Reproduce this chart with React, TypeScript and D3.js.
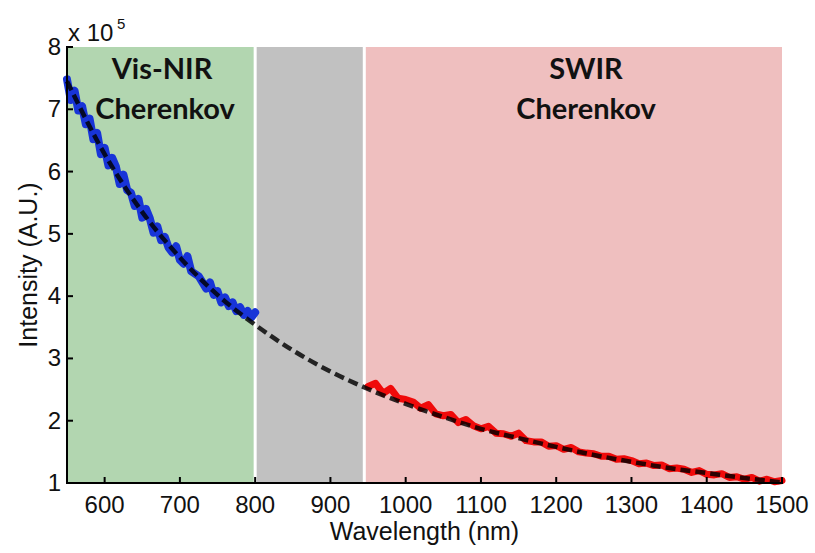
import React from "react";
import * as d3 from "d3";

// wavelength (nm) of the measured Vis-NIR spectrum, every 5 nm
const visWavelengths = d3.range(550, 801, 5);
// intensity (x 10^5)
const visIntensity = [
  7.48, 7.15, 7.3, 6.98, 7.05, 6.76, 6.85, 6.52, 6.62, 6.28, 6.38, 6.1, 6.22,
  6.08, 5.8, 5.95, 5.7, 5.66, 5.45, 5.56, 5.26, 5.4, 5.25, 5.02, 5.12, 4.9,
  4.95, 4.78, 4.7, 4.8, 4.58, 4.52, 4.64, 4.4, 4.36, 4.32, 4.22, 4.12, 4.22,
  4.02, 4.08, 3.9, 3.98, 3.84, 3.9, 3.76, 3.82, 3.7, 3.76, 3.66, 3.74,
];

// SWIR spectrum, every 10 nm
const swirWavelengths = d3.range(950, 1501, 10);
const swirIntensity = [
  2.55, 2.6, 2.44, 2.52, 2.36, 2.34, 2.3, 2.2, 2.26, 2.11, 2.08, 2.1, 1.97,
  2.02, 1.92, 1.87, 1.91, 1.8, 1.79, 1.75, 1.8, 1.68, 1.66, 1.66, 1.59, 1.6,
  1.54, 1.57, 1.5, 1.48, 1.47, 1.43, 1.43, 1.38, 1.39, 1.36, 1.31, 1.32, 1.28,
  1.29, 1.23, 1.24, 1.22, 1.17, 1.2, 1.14, 1.13, 1.15, 1.09, 1.1, 1.06, 1.09,
  1.03, 1.06, 1.02, 1.04,
];

// fitted curve (dashed), every 50 nm
const fitWavelengths = d3.range(550, 1501, 50);
const fitIntensity = [
  7.45, 6.28, 5.35, 4.62, 4.02, 3.54, 3.13, 2.79, 2.51, 2.27, 2.06, 1.87, 1.72,
  1.58, 1.45, 1.34, 1.24, 1.16, 1.08, 1.01,
];

const regions = [
  { name: "Vis-NIR", from: 550, to: 800, color: "#b2d6b0" },
  { name: "gap", from: 800, to: 945, color: "#c1c1c1" },
  { name: "SWIR", from: 945, to: 1500, color: "#efbfbf" },
];

const xTicks = [600, 700, 800, 900, 1000, 1100, 1200, 1300, 1400, 1500];
const yTicks = [1, 2, 3, 4, 5, 6, 7, 8];

const W = 815;
const H = 553;
const margin = { top: 47, right: 33, bottom: 70, left: 67 };
const font = "'Liberation Sans', Arial, sans-serif";
const labelFont = "Lato, 'Open Sans', sans-serif";

export default function App() {
  const x = d3
    .scaleLinear()
    .domain([550, 1500])
    .range([margin.left, W - margin.right]);
  const y = d3
    .scaleLinear()
    .domain([1, 8])
    .range([H - margin.bottom, margin.top]);

  const line = d3
    .line<[number, number]>()
    .x((d) => x(d[0]))
    .y((d) => y(d[1]));

  const visPath = line(visWavelengths.map((w, i) => [w, visIntensity[i]]));
  const swirPath = line(swirWavelengths.map((w, i) => [w, swirIntensity[i]]));
  const fitPath = d3
    .line<[number, number]>()
    .x((d) => x(d[0]))
    .y((d) => y(d[1]))
    .curve(d3.curveMonotoneX)(fitWavelengths.map((w, i) => [w, fitIntensity[i]]));

  const x0 = x(550);
  const x1 = x(1500);
  const yTop = y(8);
  const yBot = y(1);

  return (
    <svg
      width={W}
      height={H}
      style={{ position: "absolute", left: 0, top: 0, background: "#fff" }}
    >
      {/* shaded spectral regions */}
      {regions.map((r) => (
        <rect
          key={r.name}
          x={x(r.from)}
          y={yTop}
          width={x(r.to) - x(r.from)}
          height={yBot - yTop}
          fill={r.color}
        />
      ))}
      {[800, 945].map((b) => (
        <line
          key={b}
          x1={x(b)}
          x2={x(b)}
          y1={yTop}
          y2={yBot}
          stroke="#fff"
          strokeWidth={3}
        />
      ))}

      {/* region labels */}
      <g
        fontFamily={labelFont}
        fontWeight="bold"
        fontSize={29}
        textAnchor="middle"
        fill="#111"
      >
        <text x={162} y={79}>Vis-NIR</text>
        <text x={165} y={119}>Cherenkov</text>
        <text x={586} y={79}>SWIR</text>
        <text x={586} y={119}>Cherenkov</text>
      </g>

      {/* data */}
      <path
        d={visPath ?? ""}
        fill="none"
        stroke="#1834d8"
        strokeWidth={8}
        strokeLinejoin="round"
        strokeLinecap="round"
      />
      <path
        d={swirPath ?? ""}
        fill="none"
        stroke="#f00a0a"
        strokeWidth={7}
        strokeLinejoin="round"
        strokeLinecap="round"
      />
      <path
        d={fitPath ?? ""}
        fill="none"
        stroke="#000"
        strokeOpacity={0.82}
        strokeWidth={4.5}
        strokeDasharray="10 5"
      />

      {/* axes */}
      <g stroke="#000" strokeWidth={2}>
        <line x1={x0} x2={x0} y1={yTop - 1} y2={yBot + 1} />
        <line x1={x0 - 1} x2={x1 + 1} y1={yBot} y2={yBot} />
        {xTicks.map((t) => (
          <line key={t} x1={x(t)} x2={x(t)} y1={yBot} y2={yBot - 6} />
        ))}
        {yTicks.map((t) => (
          <line key={t} x1={x0} x2={x0 + 6} y1={y(t)} y2={y(t)} />
        ))}
      </g>
      <g fontFamily={font} fontSize={24} fill="#111">
        {xTicks.map((t) => (
          <text key={t} x={x(t)} y={513} textAnchor="middle">
            {t}
          </text>
        ))}
        {yTicks.map((t) => (
          <text key={t} x={61} y={y(t) + 8} textAnchor="end">
            {t}
          </text>
        ))}
        <text x={68} y={41}>x 10</text>
        <text x={117} y={29} fontSize={15}>5</text>
        <text x={(x0 + x1) / 2} y={540} textAnchor="middle" fontSize={25}>
          Wavelength (nm)
        </text>
        <text
          transform={`translate(37, ${(yTop + yBot) / 2}) rotate(-90)`}
          textAnchor="middle"
          fontSize={25}
        >
          Intensity (A.U.)
        </text>
      </g>
    </svg>
  );
}
